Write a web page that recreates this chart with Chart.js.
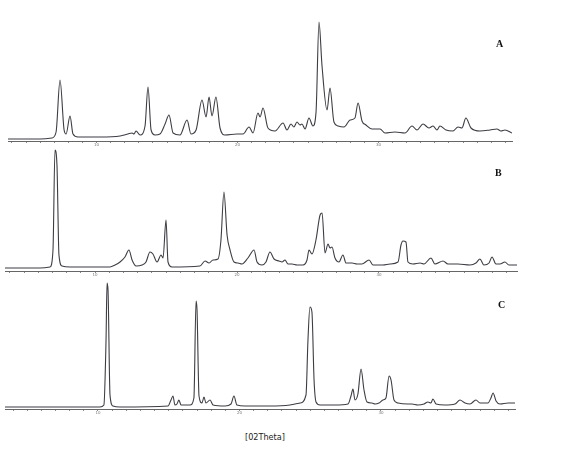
<!DOCTYPE html>
<html>
<head>
<meta charset="utf-8">
<script src="https://cdn.jsdelivr.net/npm/chart.js@4.4.1/dist/chart.umd.min.js"></script>
<style>
  html, body { margin: 0; padding: 0; background: #fff; }
  #wrap { position: relative; width: 573px; height: 449px; overflow: hidden; }
  canvas { position: absolute; left: 0; }
  .lbl { position: absolute; color: #111; }
  .panel { font-family: "Liberation Serif", "DejaVu Serif", serif; font-weight: bold; font-size: 10px; }
  .axis-title { font-family: "Liberation Sans Narrow", "DejaVu Sans Condensed", sans-serif; font-size: 9px; color: #222; }
</style>
</head>
<body>
<div id="wrap">
  <canvas id="chartA" width="573" height="140" style="top:15px"></canvas>
  <canvas id="chartB" width="573" height="140" style="top:145px"></canvas>
  <canvas id="chartC" width="573" height="143" style="top:280px"></canvas>
  <div class="lbl panel" style="left:496px;top:38px">A</div>
  <div class="lbl panel" style="left:495px;top:167px">B</div>
  <div class="lbl panel" style="left:498px;top:299px">C</div>
  <div class="lbl axis-title" style="left:245px;top:432px">[02Theta]</div>
</div>
<script>
// ── Pattern A (2θ, intensity) ──
const aTheta = [3.72, 5.99, 6.84, 7.13, 7.41, 7.70, 7.84, 8.12, 8.33, 8.69, 10.25, 11.67, 12.23, 12.52, 12.66, 12.80, 13.09, 13.44, 13.65, 13.87,
  14.15, 14.50, 14.86, 15.14, 15.43, 15.92, 16.42, 16.70, 17.06, 17.48, 17.77, 17.98, 18.19, 18.47, 18.76, 19.11, 19.96, 20.39, 20.82, 21.10,
  21.45, 21.60, 21.81, 22.16, 22.66, 23.23, 23.51, 23.79, 24.00, 24.22, 24.43, 24.57, 24.79, 25.07, 25.35, 25.57, 25.78, 25.99, 26.35, 26.56,
  26.84, 27.13, 27.55, 27.98, 28.33, 28.55, 28.83, 29.11, 29.54, 30.11, 30.46, 31.17, 31.88, 32.38, 32.73, 33.16, 33.58, 33.87, 34.15, 34.36,
  34.79, 35.28, 35.64, 35.92, 36.20, 36.56, 37.20, 37.91, 38.40, 38.69, 38.97, 39.47];
const aInt = [20, 20, 30, 90, 610, 110, 70, 250, 70, 40, 40, 50, 70, 80, 70, 100, 60, 150, 540, 110,
  60, 70, 170, 260, 80, 60, 210, 70, 110, 410, 240, 440, 250, 440, 130, 60, 70, 70, 140, 80,
  280, 240, 330, 130, 100, 180, 110, 170, 140, 190, 160, 170, 120, 230, 150, 290, 1190, 760, 310, 530,
  190, 150, 140, 210, 230, 380, 200, 160, 120, 120, 80, 90, 80, 150, 110, 170, 130, 150, 110, 150,
  110, 100, 140, 130, 230, 130, 100, 110, 120, 100, 110, 80];

// ── Pattern B ──
const bTheta = [3.66, 6.13, 6.83, 7.04, 7.18, 7.32, 7.46, 7.68, 8.24, 11.06, 11.41, 11.76, 12.11, 12.39, 12.61, 12.89, 13.31, 13.59, 13.87, 14.08,
  14.37, 14.65, 14.79, 15.00, 15.14, 15.42, 17.39, 17.75, 18.03, 18.31, 18.66, 18.87, 19.08, 19.30, 19.51, 19.79, 20.07, 20.35, 20.77, 21.20,
  21.41, 21.76, 22.04, 22.32, 22.61, 22.96, 23.17, 23.38, 23.59, 23.87, 24.23, 24.65, 24.93, 25.07, 25.28, 25.56, 25.85, 25.99, 26.20, 26.41,
  26.55, 26.69, 26.90, 27.18, 27.46, 27.68, 28.10, 28.45, 28.80, 29.30, 29.58, 30.28, 30.77, 31.34, 31.55, 31.69, 31.90, 32.04, 32.39, 32.89,
  33.17, 33.66, 33.94, 34.51, 34.86, 35.56, 36.41, 36.83, 37.11, 37.39, 37.75, 37.96, 38.24, 38.52, 38.87, 39.15, 39.72];
const bInt = [30, 30, 40, 210, 1210, 1060, 160, 50, 40, 40, 60, 90, 140, 210, 110, 50, 60, 90, 190, 170,
  90, 160, 130, 510, 90, 40, 50, 100, 80, 110, 120, 310, 790, 360, 210, 90, 80, 70, 130, 210,
  90, 60, 90, 190, 120, 100, 90, 110, 70, 70, 60, 60, 110, 210, 170, 310, 560, 580, 180, 270,
  230, 240, 130, 90, 160, 80, 80, 70, 70, 110, 60, 60, 70, 90, 260, 300, 290, 90, 70, 80,
  70, 130, 70, 100, 70, 70, 60, 80, 120, 60, 80, 140, 70, 70, 90, 60, 60];

// ── Pattern C ──
const cTheta = [3.43, 10.14, 10.42, 10.57, 10.64, 10.71, 10.85, 11.06, 11.55, 14.95, 15.16, 15.30, 15.44, 15.58, 15.72, 15.87, 16.50, 16.78, 16.93, 17.00,
  17.14, 17.35, 17.49, 17.63, 17.92, 18.13, 18.98, 19.40, 19.61, 19.82, 20.39, 22.16, 23.57, 23.92, 24.28, 24.70, 24.84, 24.98, 25.12, 25.27,
  25.41, 25.69, 26.75, 27.67, 27.88, 28.02, 28.16, 28.37, 28.59, 28.80, 29.01, 29.36, 29.58, 29.86, 30.14, 30.35, 30.57, 30.71, 30.92, 31.20,
  31.91, 32.19, 32.61, 33.04, 33.32, 33.53, 33.67, 33.89, 34.52, 35.23, 35.58, 35.94, 36.29, 36.71, 37.00, 37.56, 37.77, 37.92, 38.13, 38.41,
  38.98, 39.47];
const cInt = [20, 20, 40, 690, 1260, 1190, 140, 30, 20, 30, 90, 130, 40, 50, 90, 40, 40, 110, 1080, 990,
  130, 60, 120, 60, 90, 40, 30, 50, 130, 40, 30, 30, 40, 50, 60, 140, 690, 1020, 970, 290,
  70, 40, 40, 50, 130, 200, 90, 150, 400, 190, 70, 60, 50, 60, 90, 110, 330, 290, 90, 60,
  50, 50, 40, 50, 70, 60, 100, 50, 40, 50, 90, 60, 50, 90, 60, 60, 110, 160, 80, 50,
  60, 60];

const tickLabels = [10, 20, 30];

function toPoints(xs, ys) {
  return xs.map((x, i) => ({ x: x, y: ys[i] }));
}

// one stacked panel: x range, plot-area edges in px, y max
function makePattern(id, xs, ys, cfg) {
  new Chart(document.getElementById(id), {
    type: 'line',
    data: {
      datasets: [{
        data: toPoints(xs, ys),
        borderColor: '#3d3d44',
        borderWidth: 1.1,
        pointRadius: 0,
        fill: false,
        cubicInterpolationMode: 'monotone'
      }]
    },
    options: {
      responsive: false,
      animation: false,
      layout: { padding: { left: cfg.left, right: 573 - cfg.right, top: 0, bottom: 0 } },
      plugins: { legend: { display: false }, tooltip: { enabled: false } },
      scales: {
        x: {
          type: 'linear',
          min: cfg.xmin,
          max: cfg.xmax,
          afterBuildTicks: (scale) => {
            const t = [];
            for (let v = Math.ceil(cfg.xmin); v <= Math.floor(cfg.xmax); v++) t.push({ value: v });
            scale.ticks = t;
          },
          afterFit: (scale) => { scale.height = 14; },
          ticks: {
            autoSkip: false,
            maxRotation: 0,
            padding: 0,
            color: '#777',
            font: { size: 4, family: 'DejaVu Sans' },
            callback: (v) => tickLabels.includes(v) ? String(v) : ''
          },
          grid: { drawOnChartArea: false, drawTicks: true, tickLength: 2, color: '#888' },
          border: { display: true, color: '#666', width: 1 }
        },
        y: { display: false, min: 0, max: cfg.ymax }
      }
    }
  });
}

makePattern('chartA', aTheta, aInt, { xmin: 3.72, xmax: 39.47, left: 8, right: 512, ymax: 1260 });
makePattern('chartB', bTheta, bInt, { xmin: 3.66, xmax: 39.72, left: 5, right: 517, ymax: 1260 });
makePattern('chartC', cTheta, cInt, { xmin: 3.43, xmax: 39.47, left: 5, right: 515, ymax: 1290 });
</script>
</body>
</html>
